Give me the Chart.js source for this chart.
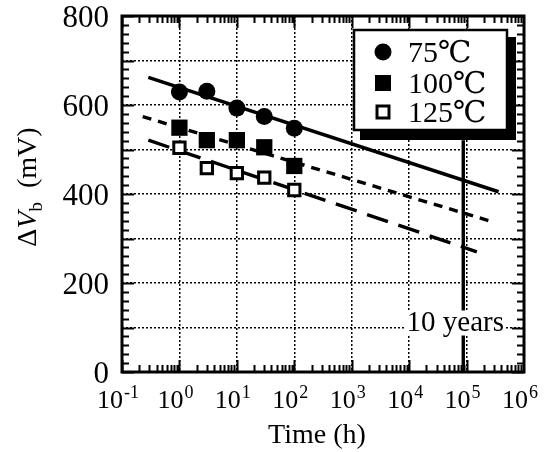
<!DOCTYPE html>
<html>
<head>
<meta charset="utf-8">
<script src="https://cdn.jsdelivr.net/npm/chart.js@4/dist/chart.umd.min.js"></script>
<style>
  html, body { margin: 0; padding: 0; background: #ffffff; }
  #wrap { width: 549px; height: 452px; position: relative; }
</style>
</head>
<body>
<div id="wrap"><canvas id="c" width="549" height="452"></canvas></div>
<script>
// ---- data ----
const times = [1, 3, 10, 30, 100];                 // h
const dv75  = [629, 631, 593, 574, 548];           // mV
const dv100 = [549, 521, 521, 505, 463];
const dv125 = [504, 458, 447, 437, 409];

const fit75T  = [0.287, 3.6e5];
const fit75V  = [662, 405];
const fit100T = [0.229, 2.75e5];
const fit100V = [574, 338];
const fit125T = [0.288, 1.51e5];
const fit125V = [521, 270];

const tenYearsT = [87600, 87600];
const tenYearsV = [521, 0];
const tenYearsLabel = '10 years';

const seriesLabels = ['75\u2103', '100\u2103', '125\u2103'];
const xTickValues = [0.1, 1, 10, 100, 1000, 10000, 100000, 1000000];
const xTickBase = '10';
const xTickExp = ['-1', '0', '1', '2', '3', '4', '5', '6'];
const yTickValues = [0, 200, 400, 600, 800];
const xTitle = 'Time (h)';

const FONT = "'Liberation Serif', 'DejaVu Serif', serif";

function pts(xs, ys) { return xs.map((x, i) => ({ x: x, y: ys[i] })); }

const framePlugin = {
  id: 'frame',
  afterDraw(chart) {
    const ctx = chart.ctx;
    const a = chart.chartArea;
    const xs = chart.scales.x, ys = chart.scales.y;
    ctx.save();
    // minor / major inside ticks
    ctx.strokeStyle = '#000';
    ctx.lineWidth = 2;
    ctx.beginPath();
    for (let v = 0; v <= 800; v += 20) {
      const y = Math.round(ys.getPixelForValue(v)) + 0.5;
      const len = (v % 100 === 0) ? 12 : 7;
      ctx.moveTo(a.left, y); ctx.lineTo(a.left + len, y);
      ctx.moveTo(a.right, y); ctx.lineTo(a.right - len, y);
    }
    for (let d = -1; d <= 5; d++) {
      for (let k = 1; k <= 9; k++) {
        const v = k * Math.pow(10, d);
        const x = Math.round(xs.getPixelForValue(v)) + 0.5;
        const len = (k === 1) ? 12 : 7;
        ctx.moveTo(x, a.bottom); ctx.lineTo(x, a.bottom - len);
        ctx.moveTo(x, a.top); ctx.lineTo(x, a.top + len);
      }
    }
    ctx.stroke();
    // frame
    ctx.lineWidth = 3;
    ctx.strokeRect(a.left, a.top, a.right - a.left, a.bottom - a.top);

    // x tick labels 10^n with real superscripts, placed by the x scale
    ctx.fillStyle = '#000';
    ctx.textBaseline = 'alphabetic';
    ctx.textAlign = 'left';
    xTickValues.forEach((v, i) => {
      const cx = xs.getPixelForValue(v) - 4;
      ctx.font = '26px ' + FONT;
      const wb = ctx.measureText(xTickBase).width;
      ctx.font = '18px ' + FONT;
      const we = ctx.measureText(xTickExp[i]).width;
      const x0 = cx - (wb + we + 1) / 2;
      ctx.font = '26px ' + FONT;
      ctx.fillText(xTickBase, x0, 408);
      ctx.font = '18px ' + FONT;
      ctx.fillText(xTickExp[i], x0 + wb + 1, 398);
    });

    // "10 years" label
    ctx.font = '29px ' + FONT;
    const tx = xs.getPixelForValue(tenYearsT[0]) - 8;
    const ty = ys.getPixelForValue(100) + 3;
    const tw = ctx.measureText(tenYearsLabel).width;
    ctx.fillStyle = '#fff';
    ctx.fillRect(tx - tw / 2 - 2, ty - 20, tw + 4, 25);
    ctx.fillStyle = '#000';
    ctx.textAlign = 'center';
    ctx.textBaseline = 'alphabetic';
    ctx.fillText(tenYearsLabel, tx, ty);

    // legend box with shadow
    const bx = 354, by = 30, bw = 153, bh = 100;
    ctx.fillStyle = '#000';
    ctx.fillRect(bx + 6, by + 7, bw + 3, bh + 3);
    ctx.fillStyle = '#fff';
    ctx.fillRect(bx, by, bw, bh);
    ctx.lineWidth = 2.5;
    ctx.strokeStyle = '#000';
    ctx.strokeRect(bx, by, bw, bh);
    const rows = [52, 83, 112];
    ctx.font = '30px ' + FONT;
    ctx.textAlign = 'left';
    ctx.textBaseline = 'middle';
    for (let i = 0; i < 3; i++) {
      const cy = rows[i], cx = 383;
      ctx.fillStyle = '#000';
      if (i === 0) {
        ctx.beginPath(); ctx.arc(cx, cy, 8.5, 0, Math.PI * 2); ctx.fill();
      } else if (i === 1) {
        ctx.fillRect(cx - 8, cy - 8, 16, 16);
      } else {
        ctx.lineWidth = 3;
        ctx.strokeRect(cx - 6, cy - 6, 12, 12);
      }
      ctx.fillStyle = '#000';
      ctx.fillText(seriesLabels[i], 408, cy + 2);
    }

    // x title
    ctx.font = '28px ' + FONT;
    ctx.textAlign = 'center';
    ctx.textBaseline = 'alphabetic';
    ctx.fillText(xTitle, (a.left + a.right) / 2 - 6, 443);

    // y title: ΔV_b (mV), rotated
    ctx.save();
    ctx.translate(36, 187);
    ctx.rotate(-Math.PI / 2);
    const parts = [
      { t: '\u0394', f: '28px ' + FONT, dy: 0 },
      { t: 'V', f: 'italic 28px ' + FONT, dy: 0 },
      { t: 'b', f: '19px ' + FONT, dy: 6 },
      { t: '  (mV)', f: '28px ' + FONT, dy: 0 }
    ];
    let total = 0;
    parts.forEach(p => { ctx.font = p.f; p.w = ctx.measureText(p.t).width; total += p.w; });
    let px = -total / 2;
    ctx.textAlign = 'left';
    parts.forEach(p => { ctx.font = p.f; ctx.fillText(p.t, px, p.dy); px += p.w; });
    ctx.restore();
    ctx.restore();
  }
};

new Chart(document.getElementById('c'), {
  type: 'line',
  data: {
    datasets: [
      { label: seriesLabels[0], data: pts(times, dv75), showLine: false, pointStyle: 'circle',
        pointRadius: 8.5, pointBackgroundColor: '#000', pointBorderColor: '#000', pointBorderWidth: 0, order: 1 },
      { label: seriesLabels[1], data: pts(times, dv100), showLine: false, pointStyle: 'rect',
        pointRadius: 11.5, pointBackgroundColor: '#000', pointBorderColor: '#000', pointBorderWidth: 0, order: 1 },
      { label: seriesLabels[2], data: pts(times, dv125), showLine: false, pointStyle: 'rect',
        pointRadius: 8, pointBackgroundColor: '#fff', pointBorderColor: '#000', pointBorderWidth: 3, order: 1 },
      { label: 'fit75', data: pts(fit75T, fit75V), borderColor: '#000', borderWidth: 3.6, pointRadius: 0, order: 2 },
      { label: 'fit100', data: pts(fit100T, fit100V), borderColor: '#000', borderWidth: 3.4, borderDash: [9, 7], pointRadius: 0, order: 2 },
      { label: 'fit125', data: pts(fit125T, fit125V), borderColor: '#000', borderWidth: 3.4, borderDash: [22, 11], pointRadius: 0, order: 2 },
      { label: '10 years', data: pts(tenYearsT, tenYearsV), borderColor: '#000', borderWidth: 3.4, pointRadius: 0, order: 2 }
    ]
  },
  options: {
    responsive: false,
    animation: false,
    layout: { padding: { left: 0, top: 16, right: 25, bottom: 0 } },
    plugins: { legend: { display: false }, tooltip: { enabled: false } },
    scales: {
      x: {
        type: 'logarithmic',
        min: 0.1, max: 1000000,
        afterBuildTicks(scale) { scale.ticks = xTickValues.map(v => ({ value: v })); },
        afterFit(scale) { scale.height = 80; scale.paddingLeft = 0; scale.paddingRight = 0; },
        ticks: { display: false, autoSkip: false, maxRotation: 0 },
        grid: { color: '#000', lineWidth: 1.5, drawTicks: false },
        border: { display: false, dash: [2, 2] },
        title: { display: false }
      },
      y: {
        type: 'linear',
        min: 0, max: 800,
        afterFit(scale) { scale.width = 122; scale.paddingTop = 0; scale.paddingBottom = 0; },
        ticks: {
          stepSize: 100, color: '#000', font: { family: FONT, size: 31 }, padding: 13, labelOffset: 3,
          autoSkip: false,
          callback(v) { return yTickValues.includes(v) ? String(v) : ''; }
        },
        grid: { color: '#000', lineWidth: 1.5, drawTicks: false },
        border: { display: false, dash: [2, 2] },
        title: { display: false }
      }
    }
  },
  plugins: [framePlugin]
});
</script>
</body>
</html>
